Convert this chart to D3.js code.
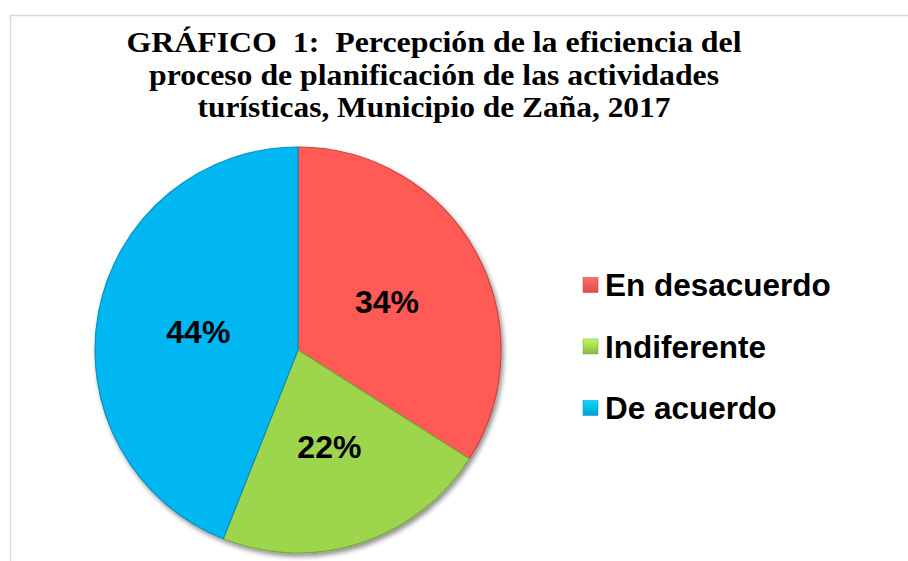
<!DOCTYPE html>
<html>
<head>
<meta charset="utf-8">
<script src="https://cdn.jsdelivr.net/npm/d3@7"></script>
<style>
  body { margin: 0; background: #fff; }
  svg { display: block; }
</style>
</head>
<body>
<div id="main"></div>
<script>
/// data ///
const categories = ['En desacuerdo', 'Indiferente', 'De acuerdo'];
const values = [34, 22, 44];
const colors = ['#ff5a57', '#9dd54d', '#00b7f1'];
const edgeColors = ['#c94440', '#79a83a', '#0a8fbf'];
const titleLines = [
    'GRÁFICO  1:  Percepción de la eficiencia del',
    'proceso de planificación de las actividades',
    'turísticas, Municipio de Zaña, 2017'
];
const titleWidths = [615, 570, 473];

const w = 908;
const h = 561;

const svg = d3.select('#main')
            .append('svg')
            .attr('width', w)
            .attr('height', h);

const defs = svg.append('defs');

// soft shadow under the pie
const shadow = defs.append('filter')
    .attr('id', 'shadow')
    .attr('x', '-10%').attr('y', '-10%')
    .attr('width', '120%').attr('height', '120%');
shadow.append('feGaussianBlur').attr('in', 'SourceAlpha').attr('stdDeviation', 2.5);
shadow.append('feOffset').attr('dx', 2).attr('dy', 3).attr('result', 'off');
shadow.append('feComponentTransfer').append('feFuncA').attr('type', 'linear').attr('slope', 0.45);
const merge = shadow.append('feMerge');
merge.append('feMergeNode');
merge.append('feMergeNode').attr('in', 'SourceGraphic');

// legend square gradients
colors.forEach((c, i) => {
    const g = defs.append('linearGradient')
        .attr('id', 'lg' + i)
        .attr('x1', 0).attr('y1', 0).attr('x2', 0).attr('y2', 1);
    g.append('stop').attr('offset', '0%').attr('stop-color', d3.color(c).brighter(0.5));
    g.append('stop').attr('offset', '100%').attr('stop-color', d3.color(c).darker(0.4));
});

// chart frame (extends past the window)
svg.append('rect')
    .attr('x', 10.5)
    .attr('y', 15.5)
    .attr('width', w + 20)
    .attr('height', h + 20)
    .attr('fill', 'none')
    .attr('stroke', '#d9d9d9')
    .attr('stroke-width', 1.5);

/// title ///
svg.append('g')
    .selectAll('text')
    .data(titleLines)
    .enter()
    .append('text')
    .attr('x', 434)
    .attr('y', (d, i) => 52 + i * 32.5)
    .attr('text-anchor', 'middle')
    .attr('textLength', (d, i) => titleWidths[i])
    .attr('lengthAdjust', 'spacingAndGlyphs')
    .style('white-space', 'pre')
    .style('font-family', '"Liberation Serif", "Times New Roman", serif')
    .style('font-weight', 'bold')
    .style('font-size', '29px')
    .style('fill', '#000')
    .text(d => d);

/// pie ///
const radius = 203;
const cx = 298;
const cy = 350;

const pie = d3.pie().sort(null).value(d => d);
const arcs = pie(values);
const arc = d3.arc().innerRadius(0).outerRadius(radius);

const pieG = svg.append('g')
    .attr('transform', `translate(${cx},${cy})`);

pieG.append('g')
    .attr('filter', 'url(#shadow)')
    .selectAll('path')
    .data(arcs)
    .enter()
    .append('path')
    .attr('d', arc)
    .attr('fill', (d, i) => colors[i])
    .attr('stroke', (d, i) => edgeColors[i])
    .attr('stroke-width', 1.2)
    .attr('stroke-linejoin', 'round');

pieG.selectAll('.label')
    .data(arcs)
    .enter()
    .append('text')
    .attr('class', 'label')
    .attr('transform', d => `translate(${arc.centroid(d)})`)
    .attr('text-anchor', 'middle')
    .attr('dy', '0.36em')
    .style('font-family', '"Liberation Sans", Arial, sans-serif')
    .style('font-weight', 'bold')
    .style('font-size', '32px')
    .style('fill', '#000')
    .text(d => d.data + '%');

/// legend ///
const legend = svg.append('g')
    .attr('transform', 'translate(583,285)');

const items = legend.selectAll('g')
    .data(categories)
    .enter()
    .append('g')
    .attr('transform', (d, i) => `translate(0,${i * 61.5})`);

items.append('rect')
    .attr('x', 0)
    .attr('y', -7.5)
    .attr('width', 15)
    .attr('height', 15)
    .attr('fill', (d, i) => `url(#lg${i})`)
    .attr('stroke', (d, i) => edgeColors[i])
    .attr('stroke-width', 0.5);

items.append('text')
    .attr('x', 22)
    .attr('y', 0)
    .attr('dy', '0.36em')
    .style('font-family', '"Liberation Sans", Arial, sans-serif')
    .style('font-weight', 'bold')
    .style('font-size', '31.5px')
    .style('fill', '#000')
    .text(d => d);
</script>
</body>
</html>
